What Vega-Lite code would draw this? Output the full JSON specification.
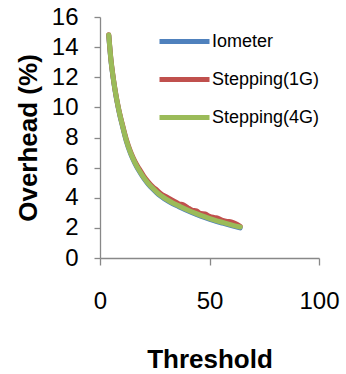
{
  "$schema": "https://vega.github.io/schema/vega-lite/v6.json",
  "width": 219,
  "height": 241,
  "autosize": {"type": "none"},
  "padding": {"left": 100, "top": 17, "right": 27, "bottom": 116},
  "background": "white",
  "config": {
    "view": {"stroke": null},
    "font": "Liberation Sans",
    "axis": {
      "grid": false,
      "domainColor": "#888888",
      "tickColor": "#888888",
      "domainWidth": 1.3,
      "tickWidth": 1.3,
      "labelColor": "#000000",
      "titleColor": "#000000",
      "labelFontSize": 24,
      "titleFontSize": 26,
      "titleFontWeight": "bold",
      "labelFont": "Liberation Sans",
      "titleFont": "Liberation Sans"
    },
    "legend": {
      "labelFont": "Liberation Sans"
    }
  },
  "data": {
    "values": [
      {"t": 4, "s": "Iometer", "v": 14.75},
      {"t": 5, "s": "Iometer", "v": 13.1},
      {"t": 6, "s": "Iometer", "v": 11.95},
      {"t": 7, "s": "Iometer", "v": 11.0},
      {"t": 8, "s": "Iometer", "v": 10.2},
      {"t": 9, "s": "Iometer", "v": 9.5},
      {"t": 10, "s": "Iometer", "v": 8.9},
      {"t": 12, "s": "Iometer", "v": 7.77},
      {"t": 14, "s": "Iometer", "v": 6.92},
      {"t": 16, "s": "Iometer", "v": 6.27},
      {"t": 18, "s": "Iometer", "v": 5.74},
      {"t": 20, "s": "Iometer", "v": 5.29},
      {"t": 22, "s": "Iometer", "v": 4.91},
      {"t": 24, "s": "Iometer", "v": 4.59},
      {"t": 26, "s": "Iometer", "v": 4.31},
      {"t": 28, "s": "Iometer", "v": 4.08},
      {"t": 30, "s": "Iometer", "v": 3.87},
      {"t": 33, "s": "Iometer", "v": 3.62},
      {"t": 36, "s": "Iometer", "v": 3.41},
      {"t": 40, "s": "Iometer", "v": 3.14},
      {"t": 44, "s": "Iometer", "v": 2.9},
      {"t": 48, "s": "Iometer", "v": 2.68},
      {"t": 52, "s": "Iometer", "v": 2.48},
      {"t": 56, "s": "Iometer", "v": 2.31},
      {"t": 60, "s": "Iometer", "v": 2.15},
      {"t": 64, "s": "Iometer", "v": 2.0},

      {"t": 4, "s": "Stepping(1G)", "v": 14.82},
      {"t": 5, "s": "Stepping(1G)", "v": 13.18},
      {"t": 6, "s": "Stepping(1G)", "v": 12.03},
      {"t": 7, "s": "Stepping(1G)", "v": 11.08},
      {"t": 8, "s": "Stepping(1G)", "v": 10.28},
      {"t": 9, "s": "Stepping(1G)", "v": 9.59},
      {"t": 10, "s": "Stepping(1G)", "v": 9.0},
      {"t": 12, "s": "Stepping(1G)", "v": 7.88},
      {"t": 14, "s": "Stepping(1G)", "v": 7.04},
      {"t": 16, "s": "Stepping(1G)", "v": 6.4},
      {"t": 18, "s": "Stepping(1G)", "v": 5.9},
      {"t": 20, "s": "Stepping(1G)", "v": 5.44},
      {"t": 22, "s": "Stepping(1G)", "v": 5.06},
      {"t": 24, "s": "Stepping(1G)", "v": 4.74},
      {"t": 26, "s": "Stepping(1G)", "v": 4.5},
      {"t": 28, "s": "Stepping(1G)", "v": 4.24},
      {"t": 30, "s": "Stepping(1G)", "v": 4.08},
      {"t": 33, "s": "Stepping(1G)", "v": 3.84},
      {"t": 36, "s": "Stepping(1G)", "v": 3.6},
      {"t": 38, "s": "Stepping(1G)", "v": 3.53},
      {"t": 40, "s": "Stepping(1G)", "v": 3.35},
      {"t": 42, "s": "Stepping(1G)", "v": 3.18},
      {"t": 44, "s": "Stepping(1G)", "v": 3.13},
      {"t": 46, "s": "Stepping(1G)", "v": 2.95},
      {"t": 48, "s": "Stepping(1G)", "v": 2.92},
      {"t": 50, "s": "Stepping(1G)", "v": 2.77},
      {"t": 52, "s": "Stepping(1G)", "v": 2.69},
      {"t": 54, "s": "Stepping(1G)", "v": 2.63},
      {"t": 56, "s": "Stepping(1G)", "v": 2.5},
      {"t": 58, "s": "Stepping(1G)", "v": 2.43},
      {"t": 60, "s": "Stepping(1G)", "v": 2.4},
      {"t": 62, "s": "Stepping(1G)", "v": 2.28},
      {"t": 64, "s": "Stepping(1G)", "v": 2.1},

      {"t": 4, "s": "Stepping(4G)", "v": 14.8},
      {"t": 5, "s": "Stepping(4G)", "v": 13.15},
      {"t": 6, "s": "Stepping(4G)", "v": 12.0},
      {"t": 7, "s": "Stepping(4G)", "v": 11.05},
      {"t": 8, "s": "Stepping(4G)", "v": 10.25},
      {"t": 9, "s": "Stepping(4G)", "v": 9.55},
      {"t": 10, "s": "Stepping(4G)", "v": 8.95},
      {"t": 12, "s": "Stepping(4G)", "v": 7.82},
      {"t": 14, "s": "Stepping(4G)", "v": 6.97},
      {"t": 16, "s": "Stepping(4G)", "v": 6.32},
      {"t": 18, "s": "Stepping(4G)", "v": 5.79},
      {"t": 20, "s": "Stepping(4G)", "v": 5.34},
      {"t": 22, "s": "Stepping(4G)", "v": 4.96},
      {"t": 24, "s": "Stepping(4G)", "v": 4.64},
      {"t": 26, "s": "Stepping(4G)", "v": 4.36},
      {"t": 28, "s": "Stepping(4G)", "v": 4.13},
      {"t": 30, "s": "Stepping(4G)", "v": 3.92},
      {"t": 33, "s": "Stepping(4G)", "v": 3.67},
      {"t": 36, "s": "Stepping(4G)", "v": 3.46},
      {"t": 40, "s": "Stepping(4G)", "v": 3.19},
      {"t": 44, "s": "Stepping(4G)", "v": 2.95},
      {"t": 48, "s": "Stepping(4G)", "v": 2.73},
      {"t": 52, "s": "Stepping(4G)", "v": 2.53},
      {"t": 56, "s": "Stepping(4G)", "v": 2.36},
      {"t": 60, "s": "Stepping(4G)", "v": 2.2},
      {"t": 64, "s": "Stepping(4G)", "v": 2.06}
    ]
  },
  "mark": {"type": "line", "strokeWidth": 5, "strokeCap": "round", "strokeJoin": "round", "interpolate": "monotone"},
  "encoding": {
    "x": {
      "field": "t",
      "type": "quantitative",
      "scale": {"domain": [0, 100], "nice": false},
      "axis": {
        "values": [0, 50, 100],
        "title": "Threshold",
        "tickSize": 7,
        "labelPadding": 24,
        "labelFlush": false,
        "titleX": 109.5,
        "titleY": 109,
        "titleBaseline": "alphabetic"
      }
    },
    "y": {
      "field": "v",
      "type": "quantitative",
      "scale": {"domain": [0, 16], "nice": false},
      "axis": {
        "values": [0, 2, 4, 6, 8, 10, 12, 14, 16],
        "title": "Overhead (%)",
        "tickSize": 6,
        "labelPadding": 16,
        "labelFlush": false,
        "titleX": -64,
        "titleY": 120.5,
        "titleAngle": -90,
        "titleAlign": "center",
        "titleBaseline": "alphabetic"
      }
    },
    "color": {
      "field": "s",
      "type": "nominal",
      "scale": {
        "domain": ["Iometer", "Stepping(1G)", "Stepping(4G)"],
        "range": ["#4F81BD", "#C0504D", "#9BBB59"]
      },
      "legend": {
        "title": null,
        "orient": "none",
        "legendX": 57,
        "legendY": -3,
        "symbolType": "stroke",
        "symbolSize": 2500,
        "symbolStrokeWidth": 5,
        "labelFontSize": 18,
        "labelColor": "#000000",
        "labelOffset": 0,
        "rowPadding": 0,
        "padding": 0
      }
    }
  }
}
